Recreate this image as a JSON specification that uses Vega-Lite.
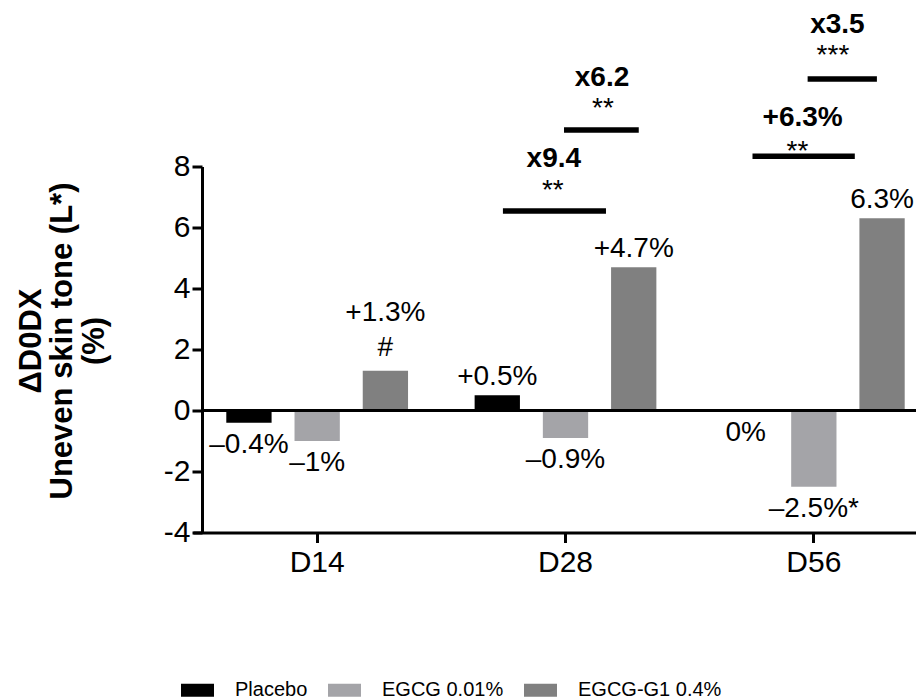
{
  "$schema": "https://vega.github.io/schema/vega-lite/v6.json",
  "width": 714,
  "height": 366,
  "autosize": {"type": "none"},
  "padding": {"left": 202, "top": 166.5, "right": 0, "bottom": 167.5},
  "background": "white",
  "config": {
    "view": {"stroke": null},
    "font": "Liberation Sans",
    "text": {"font": "Liberation Sans", "color": "black"}
  },
  "datasets": {
    "changes": [
      {"day": "D14", "group": "Placebo", "value": -0.4, "label": "–0.4%", "note": null},
      {"day": "D14", "group": "EGCG 0.01%", "value": -1.0, "label": "–1%", "note": null},
      {"day": "D14", "group": "EGCG-G1 0.4%", "value": 1.3, "label": "+1.3%", "note": "#"},
      {"day": "D28", "group": "Placebo", "value": 0.5, "label": "+0.5%", "note": null},
      {"day": "D28", "group": "EGCG 0.01%", "value": -0.9, "label": "–0.9%", "note": null},
      {"day": "D28", "group": "EGCG-G1 0.4%", "value": 4.7, "label": "+4.7%", "note": null},
      {"day": "D56", "group": "Placebo", "value": 0.0, "label": "0%", "note": null},
      {"day": "D56", "group": "EGCG 0.01%", "value": -2.5, "label": "–2.5%*", "note": null},
      {"day": "D56", "group": "EGCG-G1 0.4%", "value": 6.3, "label": "6.3%", "note": null}
    ],
    "comparisons": [
      {"start": 1.248, "end": 1.663, "level": 6.54, "ratio": "x9.4", "ratio_at": 1.453, "ratio_y": 7.98, "stars": "**", "stars_at": 1.449, "stars_y": 6.95},
      {"start": 1.494, "end": 1.795, "level": 9.2, "ratio": "x6.2", "ratio_at": 1.647, "ratio_y": 10.64, "stars": "**", "stars_at": 1.651, "stars_y": 9.62},
      {"start": 2.253, "end": 2.665, "level": 8.34, "ratio": "+6.3%", "ratio_at": 2.455, "ratio_y": 9.34, "stars": "**", "stars_at": 2.434, "stars_y": 8.2},
      {"start": 2.475, "end": 2.754, "level": 10.87, "ratio": "x3.5", "ratio_at": 2.595, "ratio_y": 12.38, "stars": "***", "stars_at": 2.577, "stars_y": 11.36}
    ]
  },
  "layer": [
    {
      "data": {"name": "changes"},
      "encoding": {
        "x": {
          "field": "day",
          "type": "nominal",
          "sort": ["D14", "D28", "D56"],
          "scale": {"range": [-9, 736], "paddingInner": 0, "paddingOuter": 0},
          "axis": {
            "title": null,
            "labelAngle": 0,
            "labelFont": "Liberation Sans",
            "labelFontSize": 30,
            "labelColor": "black",
            "labelPadding": 5,
            "tickSize": 10,
            "tickWidth": 3,
            "tickColor": "black",
            "domainColor": "black",
            "domainWidth": 3
          }
        },
        "xOffset": {
          "field": "group",
          "type": "nominal",
          "scale": {
            "domain": ["Placebo", "EGCG 0.01%", "EGCG-G1 0.4%"],
            "paddingInner": 0.336,
            "paddingOuter": 0.488
          }
        },
        "y": {
          "field": "value",
          "type": "quantitative",
          "scale": {"domain": [-4, 8], "nice": false, "zero": false},
          "axis": {
            "values": [-4, -2, 0, 2, 4, 6, 8],
            "labelExpr": "'' + datum.value",
            "grid": false,
            "labelFont": "Liberation Sans",
            "labelFontSize": 30,
            "labelColor": "black",
            "labelPadding": 2,
            "tickSize": 10,
            "tickWidth": 3,
            "tickColor": "black",
            "domainColor": "black",
            "domainWidth": 3,
            "title": ["ΔD0DX", "Uneven skin tone (L*)", "(%)"],
            "titleFont": "Liberation Sans",
            "titleFontSize": 31,
            "titleFontWeight": "bold",
            "titleColor": "black",
            "titleAngle": -90,
            "titleAlign": "center",
            "titleBaseline": "middle",
            "titleLineHeight": 31.5,
            "titleX": -171,
            "titleY": 174
          }
        }
      },
      "layer": [
        {
          "mark": {"type": "bar"},
          "encoding": {
            "color": {
              "field": "group",
              "type": "nominal",
              "scale": {
                "domain": ["Placebo", "EGCG 0.01%", "EGCG-G1 0.4%"],
                "range": ["#000000", "#a4a4a8", "#808080"]
              },
              "legend": {
                "title": null,
                "orient": "none",
                "direction": "horizontal",
                "legendX": -21,
                "legendY": 507,
                "padding": 0,
                "symbolType": "M-1,-0.4H1V0.4H-1Z",
                "symbolSize": 1089,
                "symbolStrokeWidth": 0,
                "symbolOpacity": 1,
                "labelFont": "Liberation Sans",
                "labelFontSize": 20,
                "labelColor": "black",
                "labelOffset": 21,
                "columnPadding": 20
              }
            }
          }
        },
        {
          "transform": [{"filter": "datum.value > 0 && !datum.note"}],
          "mark": {"type": "text", "fontSize": 28, "baseline": "bottom", "dy": -4},
          "encoding": {"text": {"field": "label", "type": "nominal"}}
        },
        {
          "transform": [{"filter": "datum.value > 0 && datum.note"}],
          "mark": {"type": "text", "fontSize": 28, "baseline": "bottom", "dy": -44},
          "encoding": {"text": {"field": "label", "type": "nominal"}}
        },
        {
          "transform": [{"filter": "datum.note"}],
          "mark": {"type": "text", "fontSize": 28, "baseline": "bottom", "dy": -9},
          "encoding": {"text": {"field": "note", "type": "nominal"}}
        },
        {
          "transform": [{"filter": "datum.value <= 0"}],
          "mark": {"type": "text", "fontSize": 28, "baseline": "top", "dy": 8},
          "encoding": {"text": {"field": "label", "type": "nominal"}}
        }
      ]
    },
    {
      "data": {"values": [{"level": 0}]},
      "mark": {"type": "rule", "color": "black", "strokeWidth": 3},
      "encoding": {
        "y": {"field": "level", "type": "quantitative", "scale": {"domain": [-4, 8], "nice": false, "zero": false}}
      }
    },
    {
      "data": {"name": "comparisons"},
      "layer": [
        {
          "mark": {"type": "rule", "color": "black", "strokeWidth": 5.5, "strokeCap": "butt"},
          "encoding": {
            "x": {"field": "start", "type": "quantitative", "scale": {"domain": [0, 3], "range": [-9, 736], "nice": false, "zero": false}, "axis": null},
            "x2": {"field": "end"},
            "y": {"field": "level", "type": "quantitative", "scale": {"domain": [-4, 8], "nice": false, "zero": false}}
          }
        },
        {
          "mark": {"type": "text", "fontSize": 28, "fontWeight": "bold", "baseline": "alphabetic"},
          "encoding": {
            "x": {"field": "ratio_at", "type": "quantitative", "scale": {"domain": [0, 3], "range": [-9, 736], "nice": false, "zero": false}, "axis": null},
            "y": {"field": "ratio_y", "type": "quantitative", "scale": {"domain": [-4, 8], "nice": false, "zero": false}},
            "text": {"field": "ratio", "type": "nominal"}
          }
        },
        {
          "mark": {"type": "text", "fontSize": 28, "baseline": "alphabetic"},
          "encoding": {
            "x": {"field": "stars_at", "type": "quantitative", "scale": {"domain": [0, 3], "range": [-9, 736], "nice": false, "zero": false}, "axis": null},
            "y": {"field": "stars_y", "type": "quantitative", "scale": {"domain": [-4, 8], "nice": false, "zero": false}},
            "text": {"field": "stars", "type": "nominal"}
          }
        }
      ]
    }
  ],
  "resolve": {"scale": {"x": "independent"}, "axis": {"x": "independent"}}
}
